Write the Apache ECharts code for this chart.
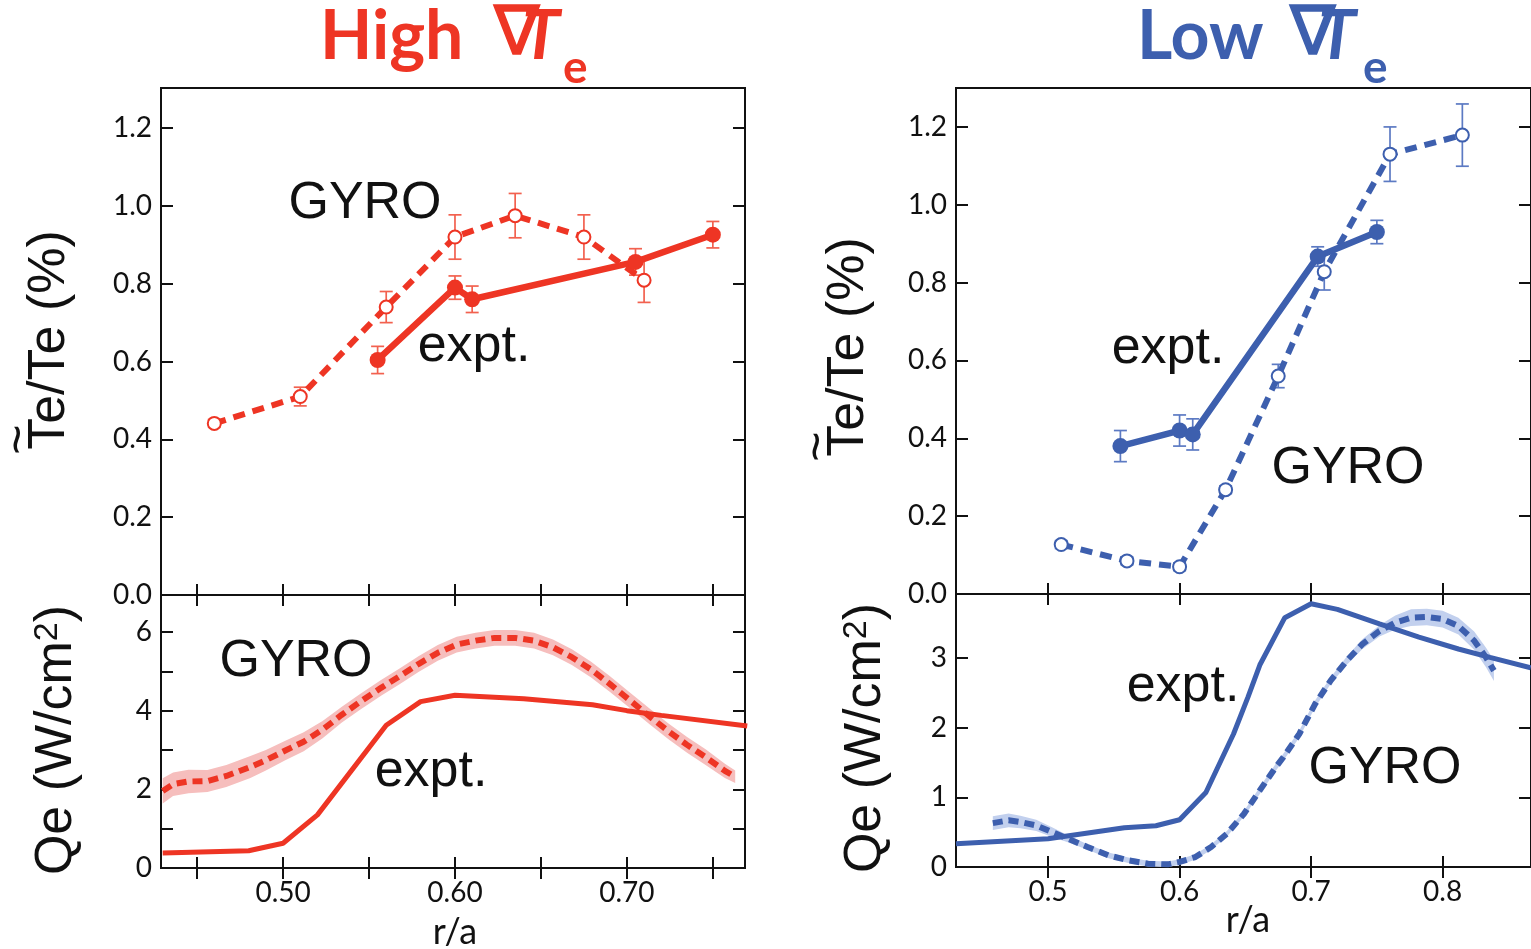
<!DOCTYPE html>
<html><head><meta charset="utf-8">
<script src="https://cdn.jsdelivr.net/npm/echarts@6/dist/echarts.min.js"></script>
<style>html,body{margin:0;padding:0;background:#fff}#c{width:1531px;height:949px}</style>
</head><body><div id="c"></div>
<script>
// ---------------- DATA ----------------
// High grad Te : fluctuation level (%)
const hiTeExptX   = [0.555, 0.600, 0.610, 0.705, 0.750];
const hiTeExptY   = [0.604, 0.790, 0.760, 0.856, 0.926];
const hiTeExptErr = [0.035, 0.030, 0.034, 0.034, 0.034];
const hiTeGyroX   = [0.460, 0.510, 0.560, 0.600, 0.635, 0.675, 0.710];
const hiTeGyroY   = [0.441, 0.510, 0.740, 0.920, 0.975, 0.920, 0.809];
const hiTeGyroErr = [0.010, 0.024, 0.040, 0.057, 0.057, 0.057, 0.057];
// High grad Te : heat flux
const hiQExptX = [0.430, 0.480, 0.500, 0.520, 0.560, 0.580, 0.600, 0.640, 0.680, 0.700, 0.720, 0.770];
const hiQExptY = [0.38, 0.44, 0.63, 1.35, 3.63, 4.23, 4.39, 4.30, 4.15, 4.00, 3.88, 3.61];
const hiQGyroX = [0.430, 0.436, 0.445, 0.456, 0.467, 0.481, 0.490, 0.501, 0.512, 0.523, 0.534, 0.545, 0.557, 0.568, 0.579, 0.590, 0.601, 0.612, 0.623, 0.635, 0.646, 0.657, 0.668, 0.679, 0.690, 0.701, 0.713, 0.724, 0.735, 0.746, 0.757, 0.763];
const hiQGyroY = [1.96, 2.13, 2.20, 2.21, 2.34, 2.57, 2.74, 2.98, 3.21, 3.52, 3.89, 4.23, 4.58, 4.88, 5.19, 5.47, 5.68, 5.78, 5.85, 5.85, 5.78, 5.61, 5.36, 5.05, 4.68, 4.29, 3.86, 3.48, 3.13, 2.81, 2.47, 2.32];
const hiQGyroErr = [0.32, 0.30, 0.30, 0.28, 0.28, 0.28, 0.26, 0.25, 0.24, 0.22, 0.20, 0.20, 0.20, 0.20, 0.20, 0.20, 0.20, 0.20, 0.20, 0.20, 0.20, 0.20, 0.20, 0.20, 0.20, 0.20, 0.20, 0.20, 0.20, 0.20, 0.18, 0.16];
// Low grad Te : fluctuation level (%)
const loTeExptX   = [0.555, 0.600, 0.610, 0.705, 0.750];
const loTeExptY   = [0.380, 0.420, 0.410, 0.867, 0.930];
const loTeExptErr = [0.040, 0.040, 0.040, 0.025, 0.030];
const loTeGyroX   = [0.510, 0.560, 0.600, 0.635, 0.675, 0.710, 0.760, 0.815];
const loTeGyroY   = [0.127, 0.085, 0.070, 0.268, 0.560, 0.828, 1.130, 1.179];
const loTeGyroErr = [0.010, 0.010, 0.010, 0.010, 0.030, 0.047, 0.070, 0.080];
// Low grad Te : heat flux
const loQExptX = [0.430, 0.500, 0.558, 0.582, 0.600, 0.620, 0.641, 0.652, 0.661, 0.680, 0.700, 0.720, 0.752, 0.782, 0.812, 0.836, 0.867];
const loQExptY = [0.334, 0.406, 0.564, 0.593, 0.679, 1.07, 1.91, 2.44, 2.90, 3.58, 3.78, 3.70, 3.49, 3.30, 3.13, 3.01, 2.86];
const loQGyroX = [0.458, 0.470, 0.479, 0.491, 0.503, 0.515, 0.530, 0.546, 0.561, 0.576, 0.591, 0.600, 0.612, 0.624, 0.636, 0.649, 0.661, 0.673, 0.679, 0.691, 0.703, 0.715, 0.727, 0.739, 0.752, 0.764, 0.776, 0.788, 0.800, 0.812, 0.824, 0.833, 0.839];
const loQGyroY = [0.63, 0.67, 0.645, 0.597, 0.502, 0.406, 0.287, 0.167, 0.096, 0.048, 0.038, 0.072, 0.143, 0.287, 0.478, 0.764, 1.10, 1.43, 1.58, 1.91, 2.34, 2.68, 2.96, 3.20, 3.39, 3.51, 3.58, 3.59, 3.56, 3.46, 3.25, 3.01, 2.82];
const loQGyroErr = [0.10, 0.10, 0.09, 0.08, 0.07, 0.05, 0.04, 0.04, 0.04, 0.04, 0.04, 0.04, 0.04, 0.04, 0.04, 0.04, 0.05, 0.05, 0.05, 0.05, 0.05, 0.05, 0.06, 0.07, 0.08, 0.10, 0.12, 0.12, 0.12, 0.12, 0.13, 0.14, 0.15];
// Tick labels
const leftXLabels  = [0.50, 0.60, 0.70];
const leftXTicks   = [0.45, 0.50, 0.55, 0.60, 0.65, 0.70, 0.75];
const rightXLabels = [0.5, 0.6, 0.7, 0.8];
const teYLabels    = [0.0, 0.2, 0.4, 0.6, 0.8, 1.0, 1.2];
const hiQYLabels   = [0, 2, 4, 6];
const hiQYTicks    = [0, 1, 2, 3, 4, 5, 6];
const loQYLabels   = [0, 1, 2, 3];

// ---------------- STYLE ----------------
const RED = '#EE3524', RED_ERR = '#F2614F', RED_BAND = '#F6BEBD';
const BLUE = '#3D5FAE', BLUE_ERR = '#5C7AC3', BLUE_BAND = '#C2D0EE';
const INK = '#111';
const TICK_FONT = 'Lato';
const TXT_FONT = '"Liberation Sans", Arial, sans-serif';

const zip = (xs, ys) => xs.map((x, i) => [x, ys[i]]);

function xAxisCfg(grid, min, max, ticks, labels, fmt, pos, showLabels) {
  return {
    type: 'value', gridIndex: grid, min: min, max: max, position: pos,
    splitLine: {show: false}, axisLine: {show: false},
    axisTick: {show: true, inside: true, length: 11, customValues: ticks, lineStyle: {color: INK, width: 2}},
    axisLabel: {show: showLabels, customValues: labels, formatter: fmt, margin: 11,
      fontFamily: TICK_FONT, fontSize: 28, color: INK}
  };
}
function yAxisCfg(grid, min, max, ticks, labels, fmt, pos, showLabels) {
  return {
    type: 'value', gridIndex: grid, min: min, max: max, position: pos,
    splitLine: {show: false}, axisLine: {show: false},
    axisTick: {show: true, inside: true, length: 12, customValues: ticks, lineStyle: {color: INK, width: 2}},
    axisLabel: {show: showLabels, customValues: labels, formatter: fmt, margin: 9,
      fontFamily: TICK_FONT, fontSize: 28, color: INK}
  };
}
const f1 = v => v.toFixed(1), f2 = v => v.toFixed(2), f0 = v => v.toFixed(0);

function errSeries(xs, ys, es, xi, yi, color) {
  return {
    type: 'custom', xAxisIndex: xi, yAxisIndex: yi, z: 1, silent: true,
    data: xs.map((x, i) => [x, ys[i], es[i]]), encode: {x: 0, y: 1},
    renderItem: function (params, api) {
      const x = api.value(0), y = api.value(1), e = api.value(2);
      const t = api.coord([x, y + e]), b = api.coord([x, y - e]);
      const st = {stroke: color, lineWidth: 1.7};
      const cap = 6.5;
      return {type: 'group', children: [
        {type: 'line', shape: {x1: t[0], y1: t[1], x2: b[0], y2: b[1]}, style: st},
        {type: 'line', shape: {x1: t[0] - cap, y1: t[1], x2: t[0] + cap, y2: t[1]}, style: st},
        {type: 'line', shape: {x1: b[0] - cap, y1: b[1], x2: b[0] + cap, y2: b[1]}, style: st}
      ]};
    }
  };
}
function bandSeries(xs, ys, es, xi, yi, color) {
  return {
    type: 'custom', xAxisIndex: xi, yAxisIndex: yi, z: 1, silent: true, clip: true,
    data: [[xs[0], ys[0]]], encode: {x: 0, y: 1},
    renderItem: function (params, api) {
      const up = xs.map((x, i) => api.coord([x, ys[i] + es[i]]));
      const lo = xs.map((x, i) => api.coord([x, ys[i] - es[i]])).reverse();
      return {type: 'polygon', shape: {points: up.concat(lo)}, style: {fill: color}};
    }
  };
}
function exptLine(xs, ys, xi, yi, color, w, sym) {
  return {type: 'line', xAxisIndex: xi, yAxisIndex: yi, z: 3, data: zip(xs, ys),
    symbol: sym ? 'circle' : 'none', symbolSize: 16, showSymbol: !!sym,
    lineStyle: {color: color, width: w}, itemStyle: {color: color}};
}
function gyroLine(xs, ys, xi, yi, color, w, sym, dash) {
  return {type: 'line', xAxisIndex: xi, yAxisIndex: yi, z: 3, data: zip(xs, ys),
    symbol: sym ? 'emptyCircle' : 'none', symbolSize: 13, showSymbol: !!sym,
    lineStyle: {color: color, width: w, type: dash},
    itemStyle: {color: color, borderWidth: 2, borderColor: color}};
}

function annot(x, y, text) {
  return {type: 'text', x: x, y: y, z: 10,
    style: {text: text, font: '52px ' + TXT_FONT, fill: INK, align: 'center', verticalAlign: 'middle',
      textAlign: 'center', textVerticalAlign: 'middle'}};
}
function teName(x, y) {
  const fs = 52;
  const L = 4.445 * fs;
  return {type: 'group', x: x, y: y, rotation: Math.PI / 2, z: 10, children: [
    {type: 'text', style: {text: 'Te/Te (%)', font: fs + 'px ' + TXT_FONT, fill: INK,
      align: 'center', verticalAlign: 'middle', textAlign: 'center', textVerticalAlign: 'middle'}},
    {type: 'text', x: -L / 2 + 0.611 * fs / 2, y: -30, style: {text: '~', font: fs + 'px ' + TXT_FONT, fill: INK,
      align: 'center', verticalAlign: 'middle', textAlign: 'center', textVerticalAlign: 'middle'}}
  ]};
}
function qName(x, y) {
  return {type: 'text', x: x, y: y, rotation: Math.PI / 2, z: 10,
    style: {text: '{a|Qe (W/cm}{b|2}{a|)}', align: 'center', verticalAlign: 'middle',
      textAlign: 'center', textVerticalAlign: 'middle',
      rich: {
        a: {font: '52px ' + TXT_FONT, fontSize: 52, fontFamily: TXT_FONT, fill: INK, lineHeight: 52},
        b: {font: '34px ' + TXT_FONT, fontSize: 34, fontFamily: TXT_FONT, fill: INK, lineHeight: 20, verticalAlign: 'top'}
      }}};
}
function titleParts(x0, word, xNabla, xT, xe, color) {
  const base = {fill: color, verticalAlign: 'middle', textVerticalAlign: 'middle', align: 'left', textAlign: 'left'};
  return [
    {type: 'text', x: x0, y: 37, z: 10, style: Object.assign({text: word, font: 'bold 68px Lato'}, base)},
    {type: 'text', x: xNabla, y: 36, z: 10, style: Object.assign({text: '\u2207', font: 'oblique 68px "DejaVu Sans"',
      stroke: color, lineWidth: 1.5}, base)},
    {type: 'text', x: xT, y: 37, z: 10, style: Object.assign({text: 'T', font: 'italic bold 68px Lato'}, base)},
    {type: 'text', x: xe, y: 68, z: 10, style: Object.assign({text: 'e', font: 'bold 46px Lato'}, base)}
  ];
}
function rName(x, y) {
  return {type: 'text', x: x, y: y, z: 10,
    style: {text: 'r/a', font: '36px Lato', fill: INK, align: 'center', verticalAlign: 'middle',
      textAlign: 'center', textVerticalAlign: 'middle'}};
}

const LXMIN = 0.429, LXMAX = 0.7687, RXMIN = 0.43, RXMAX = 0.8672;

const option = {
  animation: false,
  backgroundColor: '#fff',
  grid: [
    {left: 161, top: 88, width: 584, height: 507, show: true, borderColor: INK, borderWidth: 2, backgroundColor: 'transparent'},
    {left: 161, top: 595, width: 584, height: 273, show: true, borderColor: INK, borderWidth: 2, backgroundColor: 'transparent'},
    {left: 956, top: 88, width: 580, height: 506, show: true, borderColor: INK, borderWidth: 2, backgroundColor: 'transparent'},
    {left: 956, top: 594, width: 580, height: 273, show: true, borderColor: INK, borderWidth: 2, backgroundColor: 'transparent'}
  ],
  xAxis: [
    xAxisCfg(0, LXMIN, LXMAX, leftXTicks, leftXLabels, f2, 'bottom', false),
    xAxisCfg(1, LXMIN, LXMAX, leftXTicks, leftXLabels, f2, 'bottom', true),
    xAxisCfg(2, RXMIN, RXMAX, rightXLabels, rightXLabels, f1, 'bottom', false),
    xAxisCfg(3, RXMIN, RXMAX, rightXLabels, rightXLabels, f1, 'bottom', true),
    xAxisCfg(0, LXMIN, LXMAX, leftXTicks, leftXLabels, f2, 'top', false),
    xAxisCfg(1, LXMIN, LXMAX, leftXTicks, leftXLabels, f2, 'top', false),
    xAxisCfg(2, RXMIN, RXMAX, rightXLabels, rightXLabels, f1, 'top', false),
    xAxisCfg(3, RXMIN, RXMAX, rightXLabels, rightXLabels, f1, 'top', false)
  ],
  yAxis: [
    yAxisCfg(0, 0, 1.303, teYLabels, teYLabels, f1, 'left', true),
    yAxisCfg(1, 0, 6.94, hiQYTicks, hiQYLabels, f0, 'left', true),
    yAxisCfg(2, 0, 1.300, teYLabels, teYLabels, f1, 'left', true),
    yAxisCfg(3, 0, 3.92, loQYLabels, loQYLabels, f0, 'left', true),
    yAxisCfg(0, 0, 1.303, teYLabels, teYLabels, f1, 'right', false),
    yAxisCfg(1, 0, 6.94, hiQYTicks, hiQYLabels, f0, 'right', false),
    yAxisCfg(2, 0, 1.300, teYLabels, teYLabels, f1, 'right', false),
    yAxisCfg(3, 0, 3.92, loQYLabels, loQYLabels, f0, 'right', false)
  ],
  series: [
    // High grad Te, top
    errSeries(hiTeGyroX, hiTeGyroY, hiTeGyroErr, 0, 0, RED_ERR),
    gyroLine(hiTeGyroX, hiTeGyroY, 0, 0, RED, 6, true, [12, 8]),
    errSeries(hiTeExptX, hiTeExptY, hiTeExptErr, 0, 0, RED_ERR),
    exptLine(hiTeExptX, hiTeExptY, 0, 0, RED, 6.5, true),
    // High grad Te, bottom
    bandSeries(hiQGyroX, hiQGyroY, hiQGyroErr, 1, 1, RED_BAND),
    gyroLine(hiQGyroX, hiQGyroY, 1, 1, RED, 6, false, [10, 6]),
    exptLine(hiQExptX, hiQExptY, 1, 1, RED, 5, false),
    // Low grad Te, top
    errSeries(loTeGyroX, loTeGyroY, loTeGyroErr, 2, 2, BLUE_ERR),
    gyroLine(loTeGyroX, loTeGyroY, 2, 2, BLUE, 6, true, [12, 8]),
    errSeries(loTeExptX, loTeExptY, loTeExptErr, 2, 2, BLUE_ERR),
    exptLine(loTeExptX, loTeExptY, 2, 2, BLUE, 6.5, true),
    // Low grad Te, bottom
    bandSeries(loQGyroX, loQGyroY, loQGyroErr, 3, 3, BLUE_BAND),
    gyroLine(loQGyroX, loQGyroY, 3, 3, BLUE, 6, false, [10, 6]),
    exptLine(loQExptX, loQExptY, 3, 3, BLUE, 5, false)
  ],
  graphic: [].concat(
    titleParts(320, 'High', 494, 522, 563, RED),
    titleParts(1137, 'Low', 1290, 1318, 1363, BLUE),
    [
      teName(50, 340), qName(57, 740),
      teName(849, 347), qName(866, 738),
      annot(365, 204, 'GYRO'), annot(474, 347, 'expt.'),
      annot(296, 662, 'GYRO'), annot(431, 772, 'expt.'),
      annot(1168, 349, 'expt.'), annot(1348, 469, 'GYRO'),
      annot(1183, 687, 'expt.'), annot(1385, 769, 'GYRO'),
      rName(455, 932), rName(1248, 920)
    ]
  )
};
const chart = echarts.init(document.getElementById('c'));
chart.setOption(option);
</script>
</body></html>
